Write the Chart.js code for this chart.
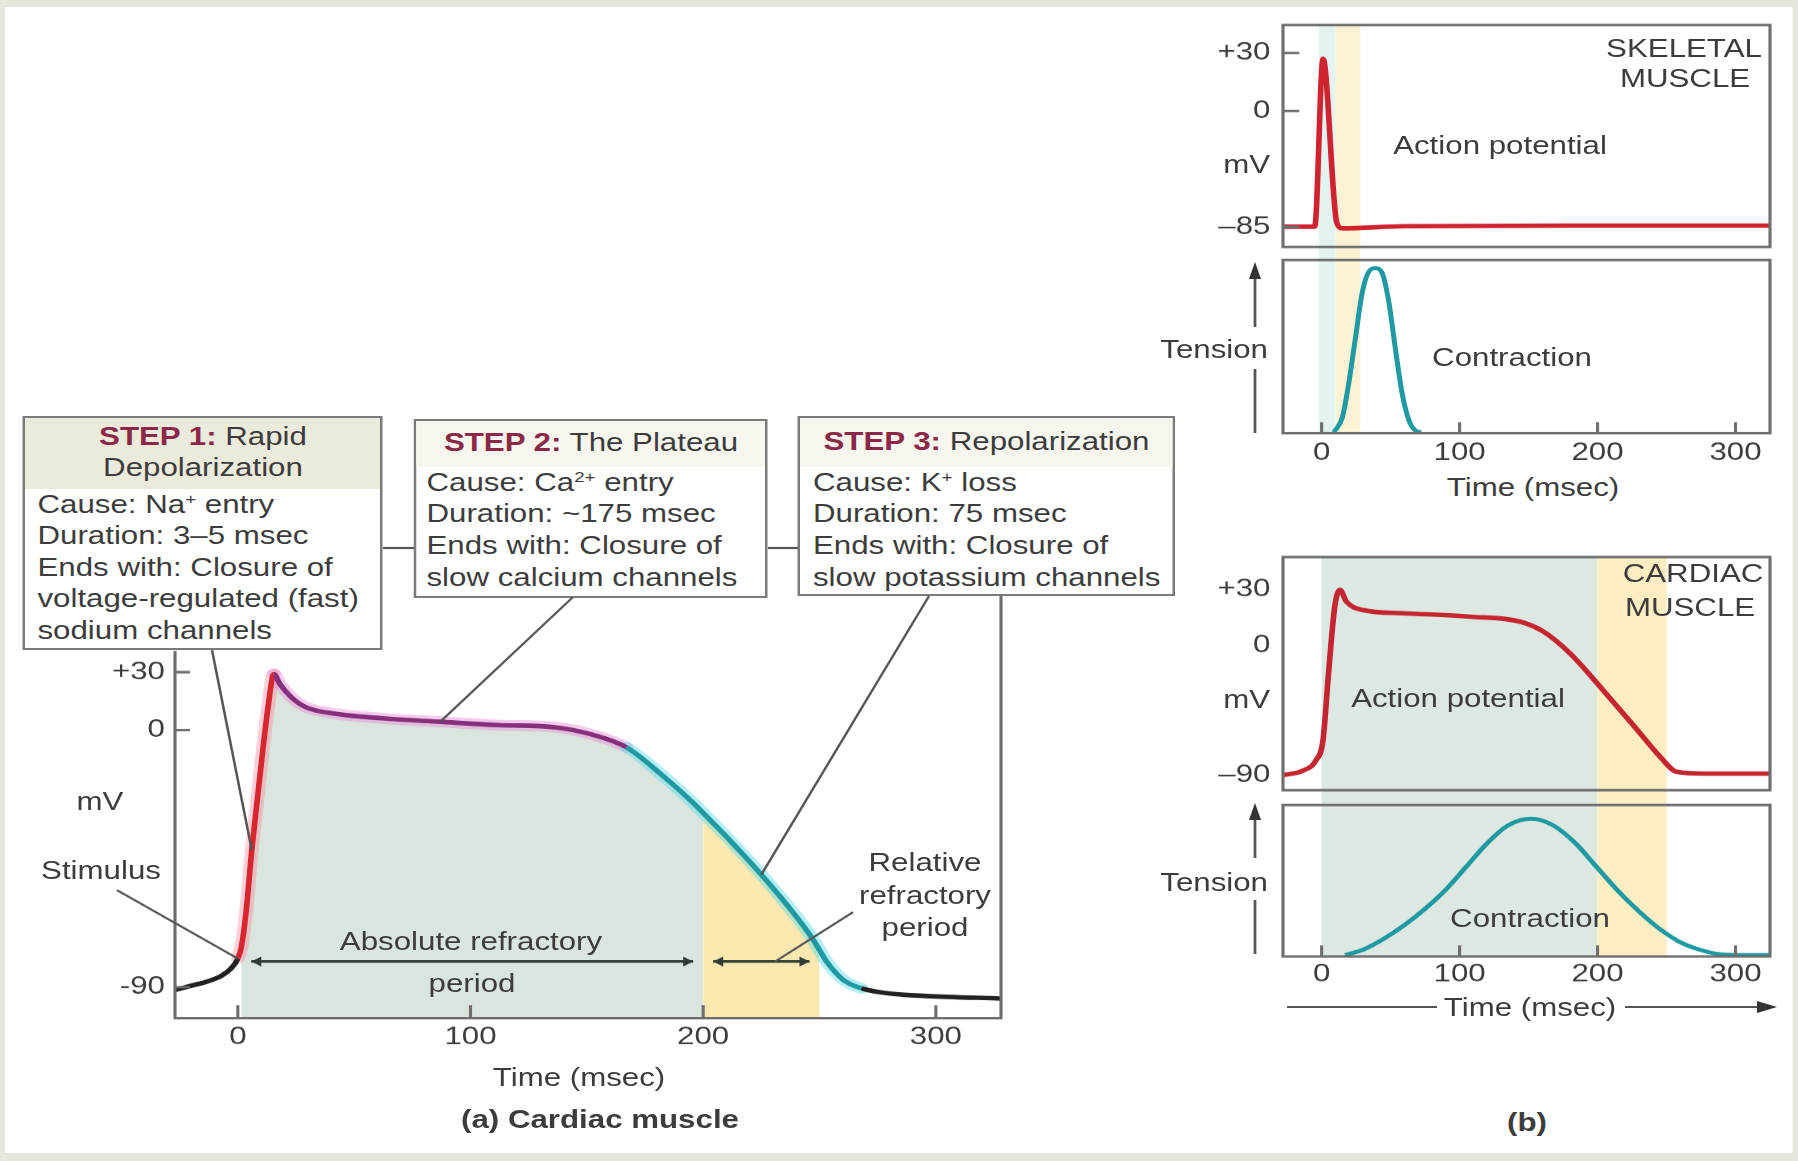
<!DOCTYPE html>
<html lang="en">
<head>
<meta charset="utf-8">
<title>Cardiac muscle action potential</title>
<script src="https://cdn.jsdelivr.net/npm/chart.js@4.4.1/dist/chart.umd.min.js"></script>
<style>
  html, body { margin: 0; padding: 0; }
  body { width: 1798px; height: 1161px; overflow: hidden; background: #e4e8dc; }
  /* the figure is stretched sideways by 1.25, so it is laid out narrow and scaled */
  #fig { position: absolute; left: 0; top: 0; width: 1438.4px; height: 1161px;
         transform: scaleX(1.25); transform-origin: 0 0;
         font-family: "Liberation Sans", Arial, Helvetica, sans-serif; color: #3c3c3c; }
  #paper { position: absolute; left: 4px; top: 7px; width: 1429.6px; height: 1146px; background: #fff; }
  #fig canvas, #fig svg { position: absolute; }
  .lbl { position: absolute; font-size: 25px; line-height: 1; white-space: nowrap; }
  .box { position: absolute; box-sizing: border-box; border: 2.5px solid #7b7b7b; background: #fff;
         font-size: 25px; white-space: nowrap; }
  .box .ttl { text-align: center; line-height: 31px; }
  .box .ttl b { color: #8b2848; }
  .box sup { font-size: 15px; line-height: 0; vertical-align: 9px; }
</style>
</head>
<body>
<div id="fig">
  <div id="paper"></div>

  <div class="box" style="left:18.4px;top:416px;width:288px;height:234px">
    <div class="ttl" style="background:#ebebdc;padding:2.5px 0 6px"><b>STEP 1:</b> Rapid<br>Depolarization</div>
    <div style="padding-left:9.6px;line-height:31.5px">Cause: Na<sup>+</sup> entry<br>Duration: 3–5 msec<br>Ends with: Closure of<br>voltage-regulated (fast)<br>sodium channels</div>
  </div>
  <div class="box" style="left:331.2px;top:419px;width:283.2px;height:179px">
    <div class="ttl" style="background:#f6f5ee;padding:5.5px 0 9px"><b>STEP 2:</b> The Plateau</div>
    <div style="padding-left:8px;line-height:31.7px">Cause: Ca<sup>2+</sup> entry<br>Duration: ~175 msec<br>Ends with: Closure of<br>slow calcium channels</div>
  </div>
  <div class="box" style="left:638.4px;top:416px;width:301.6px;height:180px">
    <div class="ttl" style="background:#f6f5ee;padding:7.5px 0 10px"><b>STEP 3:</b> Repolarization</div>
    <div style="padding-left:10px;line-height:31.7px">Cause: K<sup>+</sup> loss<br>Duration: 75 msec<br>Ends with: Closure of<br>slow potassium channels</div>
  </div>

  <svg id="deco" width="1438.4" height="1161" style="left:0;top:0;overflow:visible"></svg>
</div>

<script>
const S = 1.25            // horizontal stretch of the figure
const X = (v) => v / S    // full-size page px -> layout px inside #fig

// ---------- data ----------
// (a) cardiac muscle: time (msec) and membrane potential (mV)
const apTime = [-27, -20, -13, -7, -3, 0, 1.5, 3.5, 6, 9.5, 13, 15.5, 18, 23, 29, 41, 62, 87, 112, 137,
  152, 167, 182, 196, 200, 210, 225, 239, 247, 250, 253, 260, 268, 282, 296, 328]
const apMv = [-91, -89.5, -88, -86, -83.5, -80, -76, -64, -42, -16, 12, 29, 24, 17, 12, 8.6, 6.1, 4.3, 2.6, 1.4,
  -1.5, -6, -15.5, -25.7, -29, -37.3, -50.6, -64.2, -73, -77, -81, -87.3, -90.4, -92.4, -93.1, -94]
const phaseStart = [0, 15.5, 167, 268]   // stimulus, peak, end of plateau, back at rest
const absRefractory = [1.5, 200]
const relRefractory = [200, 250]
const arrowLevel = -81
const mainYTicks = [30, 0, -90]
const mainYLabels = ["+30", "0", "-90"]
const timeTicks = [0, 100, 200, 300]

// (b) skeletal muscle
const skTime = [-28, -5, 1, 11, 15, 60, 200, 325]
const skMv = [-84.8, -84.8, 27, -82, -86, -84.5, -84, -84]
const skTensionTime = [9, 15, 19.7, 24.6, 29.4, 34.3, 39, 43.9, 48.8, 53.6, 58.4, 63.3, 68, 72]
const skTension = [0, 0.09, 0.3, 0.58, 0.85, 0.98, 1.0, 0.97, 0.79, 0.5, 0.235, 0.072, 0.01, 0]
const skYTicks = [30, 0, -85]
const skYLabels = ["+30", "0", "–85"]
const skAbsRefractory = [-2, 10]
const skRelRefractory = [10, 28]

// (b) cardiac muscle
const cdTime = [-28, -13, -4, 1, 5, 9.5, 13.3, 18, 30, 59, 108, 144, 161, 180, 204, 229, 245.5, 257.5, 277, 325]
const cdMv = [-90, -86.6, -79.6, -65.8, -19.6, 20.5, 29.5, 23.2, 18.7, 17, 15.2, 12.5, 7.1, -5.7, -31.2, -58.9,
  -77.4, -87.7, -88.9, -88.9]
const cdTensionTime = [17, 30, 45, 60, 75, 90, 105, 120, 135, 152, 168, 184, 199, 214, 229, 244, 259, 274, 290, 305, 325]
const cdTension = [0, 0.04, 0.12, 0.22, 0.34, 0.48, 0.65, 0.82, 0.95, 1.0, 0.95, 0.82, 0.65, 0.48, 0.33, 0.2,
  0.1, 0.04, 0.005, 0, 0]
const cdYTicks = [30, 0, -90]
const cdYLabels = ["+30", "0", "–90"]
const cdAbsRefractory = [0, 200]
const cdRelRefractory = [200, 250]

// the mV axes are schematic: below 0 each panel has its own stretch
const toAxis = (mv, kNeg) => (mv >= 0 ? mv : mv * kNeg)

const fig = document.getElementById("fig")
Chart.defaults.font.family = '"Liberation Sans", Arial, Helvetica, sans-serif'
Chart.defaults.font.size = 25
Chart.defaults.color = "#3c3c3c"

const FRAME = "#6e6e6e"

// Build one chart whose plot area sits at a given place on the page
function makePanel(cfg) {
  const { region, area } = cfg
  const cv = document.createElement("canvas")
  const w = Math.round(X(region.r - region.l))
  const h = region.b - region.t
  cv.width = w
  cv.height = h
  cv.style.left = X(region.l) + "px"
  cv.style.top = region.t + "px"
  fig.appendChild(cv)
  const yW = X(area.l - region.l)
  const rightPad = w - X(area.r - region.l)
  const xH = region.b - area.b
  return new Chart(cv, {
    type: "line",
    data: { datasets: cfg.datasets },
    options: {
      responsive: false,
      animation: false,
      devicePixelRatio: 1.25,
      events: [],
      layout: { autoPadding: false, padding: { left: 0, top: area.t - region.t, right: rightPad, bottom: 0 } },
      elements: { point: { radius: 0 } },
      plugins: { legend: { display: false }, tooltip: { enabled: false } },
      scales: {
        x: {
          type: "linear", min: cfg.xMin, max: cfg.xMax, bounds: "data",
          afterBuildTicks: (s) => { s.ticks = timeTicks.map((v) => ({ value: v })) },
          afterFit: (s) => { s.height = xH; s.paddingLeft = 0; s.paddingRight = 0 },
          grid: { display: false, drawTicks: false },
          border: { display: false },
          ticks: { display: !!cfg.xLabels, padding: cfg.xPad || 4, maxRotation: 0, autoSkip: false,
            callback: (v) => String(v) },
        },
        y: {
          type: "linear", min: cfg.yMin, max: cfg.yMax, bounds: "data",
          afterBuildTicks: (s) => { s.ticks = (cfg.yTicks || [0]).map((v) => ({ value: v })) },
          afterFit: (s) => { s.width = yW; s.paddingTop = 0; s.paddingBottom = 0 },
          grid: { display: false, drawTicks: false },
          border: { display: false },
          ticks: { display: !!cfg.yLabels, padding: cfg.yPad || 8, autoSkip: false,
            callback: (v, i) => (cfg.yLabels ? cfg.yLabels[i] : "") },
        },
      },
    },
    plugins: cfg.plugins || [],
  })
}

// full-height coloured bands behind a panel
function bandsPlugin(list, extend) {
  return {
    id: "bands",
    beforeDatasetsDraw(chart) {
      const { ctx, chartArea: a, scales: { x } } = chart
      ctx.save()
      list.forEach(([range, color]) => {
        const x0 = x.getPixelForValue(range[0])
        const x1 = x.getPixelForValue(range[1])
        ctx.fillStyle = color
        ctx.fillRect(x0, a.top, x1 - x0, a.bottom - a.top + (extend || 0))
      })
      ctx.restore()
    },
  }
}

// box round the plot area plus short ticks pointing inwards
function framePlugin(xLen, yLen) {
  return {
    id: "frame",
    afterDraw(chart) {
      const { ctx, chartArea: a, scales } = chart
      ctx.save()
      ctx.strokeStyle = FRAME
      ctx.lineWidth = 2.5
      ctx.strokeRect(a.left, a.top, a.right - a.left, a.bottom - a.top)
      ctx.beginPath()
      if (xLen) scales.x.ticks.forEach((t) => {
        const p = scales.x.getPixelForValue(t.value)
        ctx.moveTo(p, a.bottom); ctx.lineTo(p, a.bottom - xLen)
      })
      if (yLen) scales.y.ticks.forEach((t) => {
        const p = scales.y.getPixelForValue(t.value)
        ctx.moveTo(a.left, p); ctx.lineTo(a.left + yLen, p)
      })
      ctx.stroke()
      ctx.restore()
    },
  }
}

// ---------- (a) cardiac muscle ----------
const MAIN = { region: { l: 0, t: 580, r: 1200, b: 1161 }, area: { l: 175, t: 651, r: 1001, b: 1018 }, k: 1.4774 }
const apPts = apTime.map((t, i) => ({ x: t, y: toAxis(apMv[i], MAIN.k) }))
const within = ([a, b]) => apPts.filter((p) => p.x >= a && p.x <= b)
const phaseIndex = (t) => phaseStart.filter((s) => t >= s).length
const lineColors = ["#222222", "#d8262f", "#86307c", "#1f9aa2", "#222222"]
const glowColors = ["rgba(0,0,0,0)", "rgba(255,120,140,0.35)", "rgba(232,140,214,0.45)", "rgba(90,220,232,0.45)", "rgba(0,0,0,0)"]

const mainDecor = {
  id: "mainDecor",
  afterDraw(chart) {
    const { ctx, chartArea: a, scales: { x, y } } = chart
    const px = (fx) => X(fx - MAIN.region.l)
    const py = (fy) => fy - MAIN.region.t
    const curve = (t) => {
      const i = apTime.indexOf(t)
      return [x.getPixelForValue(t), y.getPixelForValue(toAxis(apMv[i], MAIN.k))]
    }
    ctx.save()
    // axes: left, bottom, and the right edge that rises to the STEP 3 box
    ctx.strokeStyle = FRAME
    ctx.lineWidth = 2.5
    ctx.beginPath()
    ctx.moveTo(a.left, a.top); ctx.lineTo(a.left, a.bottom); ctx.lineTo(a.right, a.bottom); ctx.lineTo(a.right, py(596))
    timeTicks.forEach((t) => { const p = x.getPixelForValue(t); ctx.moveTo(p, a.bottom); ctx.lineTo(p, a.bottom - 13) })
    mainYTicks.forEach((v) => { const p = y.getPixelForValue(toAxis(v, MAIN.k)); ctx.moveTo(a.left, p); ctx.lineTo(a.left + 12, p) })
    ctx.stroke()

    // refractory period arrows
    const ay = y.getPixelForValue(toAxis(arrowLevel, MAIN.k))
    ctx.strokeStyle = "#2f3b33"
    ctx.fillStyle = "#2f3b33"
    ctx.lineWidth = 2.5
    const head = (hx, dir) => {
      ctx.beginPath()
      ctx.moveTo(hx, ay); ctx.lineTo(hx - dir * 8, ay - 5); ctx.lineTo(hx - dir * 8, ay + 5)
      ctx.closePath(); ctx.fill()
    }
    ;[absRefractory, relRefractory].forEach(([t0, t1]) => {
      const x0 = x.getPixelForValue(t0) + 8
      const x1 = x.getPixelForValue(t1) - 8
      ctx.beginPath(); ctx.moveTo(x0, ay); ctx.lineTo(x1, ay); ctx.stroke()
      head(x0, -1); head(x1, 1)
    })

    // leader lines from the boxes and labels
    ctx.strokeStyle = "#555"
    ctx.lineWidth = 2
    const leaders = [[212, 650, 6], [117, 890, 0], [573, 597, 87], [929, 596, 225]]
    ctx.beginPath()
    leaders.forEach(([fx, fy, t]) => {
      const [cx, cy] = curve(t)
      ctx.moveTo(px(fx), py(fy)); ctx.lineTo(cx, cy)
    })
    ctx.moveTo(px(853), py(912)); ctx.lineTo(x.getPixelForValue(231), ay)
    ctx.stroke()
    ctx.restore()
  },
}

makePanel({
  region: MAIN.region, area: MAIN.area,
  xMin: -27, xMax: 328, yMin: -149, yMax: 40.9,
  xLabels: true, xPad: 4,
  yTicks: mainYTicks.map((v) => toAxis(v, MAIN.k)), yLabels: mainYLabels, yPad: 8,
  datasets: [
    { data: within(absRefractory), fill: "start", backgroundColor: "#dae5de", borderColor: "rgba(0,0,0,0)",
      borderWidth: 0, cubicInterpolationMode: "monotone", order: 4 },
    { data: within(relRefractory), fill: "start", backgroundColor: "#fbe8b0", borderColor: "rgba(0,0,0,0)",
      borderWidth: 0, cubicInterpolationMode: "monotone", order: 3 },
    { data: apPts, borderWidth: 11, cubicInterpolationMode: "monotone", order: 2, borderCapStyle: "round",
      segment: { borderColor: (c) => glowColors[phaseIndex(c.p0.parsed.x)] } },
    { data: apPts, borderWidth: 4.5, cubicInterpolationMode: "monotone", order: 1, borderJoinStyle: "round",
      segment: { borderColor: (c) => lineColors[phaseIndex(c.p0.parsed.x)] } },
  ],
  plugins: [mainDecor],
})

// ---------- (b) skeletal muscle ----------
const SK_K = 0.706
const skBands = [[skAbsRefractory, "rgba(190,228,222,0.45)"], [skRelRefractory, "rgba(253,232,178,0.55)"]]
makePanel({
  region: { l: 1130, t: 10, r: 1795, b: 262 }, area: { l: 1283, t: 25, r: 1770, b: 247 },
  xMin: -28, xMax: 325, yMin: -70.4, yMax: 44.5,
  yTicks: skYTicks.map((v) => toAxis(v, SK_K)), yLabels: skYLabels, yPad: 10,
  datasets: [{ data: skTime.map((t, i) => ({ x: t, y: toAxis(skMv[i], SK_K) })), borderColor: "#cf2430",
    borderWidth: 4.5, cubicInterpolationMode: "monotone", borderJoinStyle: "round" }],
  plugins: [bandsPlugin(skBands, 13), framePlugin(0, 13)],
})
makePanel({
  region: { l: 1130, t: 255, r: 1795, b: 472 }, area: { l: 1283, t: 260, r: 1770, b: 433 },
  xMin: -28, xMax: 325, yMin: -0.006, yMax: 1.05,
  xLabels: true, xPad: 5,
  datasets: [{ data: skTensionTime.map((t, i) => ({ x: t, y: skTension[i] })), borderColor: "#1f9aa3",
    borderWidth: 4, cubicInterpolationMode: "monotone" }],
  plugins: [bandsPlugin(skBands, 0), framePlugin(11, 0)],
})

// ---------- (b) cardiac muscle ----------
const CD_K = 0.774
const cdBands = [[cdAbsRefractory, "#dde8e2"], [cdRelRefractory, "#fdedc2"]]
makePanel({
  region: { l: 1130, t: 545, r: 1795, b: 810 }, area: { l: 1283, t: 557, r: 1770, b: 790 },
  xMin: -28, xMax: 325, yMin: -77.7, yMax: 47.1,
  yTicks: cdYTicks.map((v) => toAxis(v, CD_K)), yLabels: cdYLabels, yPad: 10,
  datasets: [{ data: cdTime.map((t, i) => ({ x: t, y: toAxis(cdMv[i], CD_K) })), borderColor: "#c4252f",
    borderWidth: 4.5, cubicInterpolationMode: "monotone", borderJoinStyle: "round" }],
  plugins: [bandsPlugin(cdBands, 15), framePlugin(0, 0)],
})
makePanel({
  region: { l: 1130, t: 800, r: 1795, b: 995 }, area: { l: 1283, t: 805, r: 1770, b: 956 },
  xMin: -28, xMax: 325, yMin: -0.01, yMax: 1.1,
  xLabels: true, xPad: 3,
  datasets: [{ data: cdTensionTime.map((t, i) => ({ x: t, y: cdTension[i] })), borderColor: "#1f9aa3",
    borderWidth: 4, cubicInterpolationMode: "monotone" }],
  plugins: [bandsPlugin(cdBands, 0), framePlugin(11, 0)],
})

// ---------- text labels (full-size page positions) ----------
const labels = [
  ["mV", 100, 801, "c"],
  ["Stimulus", 101, 870, "c"],
  ["Absolute refractory", 471, 941, "c"],
  ["period", 472, 983, "c"],
  ["Relative", 925, 862, "c"],
  ["refractory", 925, 895, "c"],
  ["period", 925, 927, "c"],
  ["Time (msec)", 579, 1077, "c"],
  ["(a) Cardiac muscle", 600, 1119, "c", true],
  ["SKELETAL", 1684, 48, "c"],
  ["MUSCLE", 1685, 78, "c"],
  ["mV", 1270, 164, "r"],
  ["Action potential", 1500, 145, "c"],
  ["Tension", 1268, 349, "r"],
  ["Contraction", 1512, 357, "c"],
  ["Time (msec)", 1533, 487, "c"],
  ["CARDIAC", 1693, 573, "c"],
  ["MUSCLE", 1690, 607, "c"],
  ["mV", 1270, 699, "r"],
  ["Action potential", 1458, 698, "c"],
  ["Tension", 1268, 882, "r"],
  ["Contraction", 1530, 918, "c"],
  ["Time (msec)", 1530, 1007, "c"],
  ["(b)", 1527, 1122, "c", true],
]
labels.forEach(([text, x, y, align, bold]) => {
  const d = document.createElement("div")
  d.className = "lbl"
  d.textContent = text
  d.style.left = X(x) + "px"
  d.style.top = y + "px"
  d.style.transform = align === "r" ? "translate(-100%, -50%)" : "translate(-50%, -50%)"
  if (bold) d.style.fontWeight = "bold"
  fig.appendChild(d)
})

// ---------- connectors and arrows ----------
const svgNS = "http://www.w3.org/2000/svg"
const deco = document.getElementById("deco")
fig.appendChild(deco)
function seg(x1, y1, x2, y2) {
  const l = document.createElementNS(svgNS, "line")
  l.setAttribute("x1", X(x1)); l.setAttribute("y1", y1)
  l.setAttribute("x2", X(x2)); l.setAttribute("y2", y2)
  l.setAttribute("stroke", "#555"); l.setAttribute("stroke-width", 2.2)
  deco.appendChild(l)
}
function tri(pts) {
  const p = document.createElementNS(svgNS, "polygon")
  p.setAttribute("points", pts.map(([x, y]) => X(x) + "," + y).join(" "))
  p.setAttribute("fill", "#333")
  deco.appendChild(p)
}
seg(383, 548, 414, 548)
seg(768, 548, 798, 548)
seg(1255, 276, 1255, 327); seg(1255, 369, 1255, 433); tri([[1255, 262], [1249, 279], [1261, 279]])
seg(1255, 817, 1255, 858); seg(1255, 900, 1255, 954); tri([[1255, 803], [1249, 820], [1261, 820]])
seg(1287, 1007, 1437, 1007); seg(1625, 1007, 1760, 1007); tri([[1777, 1007], [1757, 1001], [1757, 1013]])
</script>
</body>
</html>
